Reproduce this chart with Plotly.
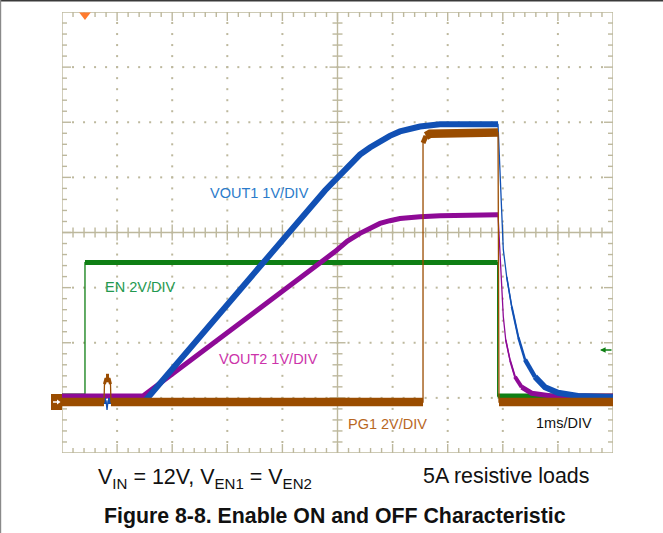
import numpy as np
import plotly.graph_objects as go

# ---------------- figure geometry ----------------
W, H = 663, 533
ML, MR, MT, MB = 62, 50, 12, 80
PW = W - ML - MR          # plot width  (px)
PH = H - MT - MB          # plot height (px)
NX, NY = 10, 8            # scope divisions
PXX = PW / NX
PXY = PH / NY

# ---------------- data (time in ms, 1 ms/DIV; voltages in V) ----------------
# EN (2 V/DIV)
en_t = [0.0, 0.417, 0.417, 7.907, 7.907, 10.0]
en_v = [0.0, 0.0, 4.84, 4.84, 0.0, 0.0]
en_trigger_level = 1.67

# VOUT1 (1 V/DIV)
vout1_t = [0.0, 0.80, 0.817, 0.835, 1.506, 4.773, 4.991, 5.200, 5.408, 5.590, 5.771,
           5.950, 6.134, 6.320, 6.497, 6.860, 7.913, 8.009, 8.071, 8.162, 8.281,
           8.403, 8.584, 8.766, 9.002, 9.365, 10.0]
vout1_v = [0.0, 0.0, -0.16, 0.0, 0.0, 3.82, 4.05, 4.28, 4.47, 4.60, 4.71,
           4.81, 4.89, 4.95, 4.98, 5.02, 5.02, 2.75, 2.25, 1.71, 1.16,
           0.75, 0.44, 0.25, 0.15, 0.09, 0.07]

# VOUT2 (1 V/DIV)
vout2_t = [0.0, 1.470, 4.955, 5.180, 5.408, 5.590, 5.771, 5.950, 6.134, 6.497,
           6.860, 7.913, 7.949, 7.980, 8.009, 8.053, 8.131, 8.221, 8.343, 8.524,
           8.887, 10.0]
vout2_v = [0.0, 0.0, 2.62, 2.81, 2.95, 3.05, 3.13, 3.18, 3.22, 3.25,
           3.27, 3.29, 2.65, 2.05, 1.44, 1.02, 0.65, 0.35, 0.16, 0.05,
           0.0, 0.0]

# PG1 (2 V/DIV)
pg1_t = [0.0, 0.762, 0.771, 0.799, 0.853, 0.880, 0.889, 6.552, 6.552, 6.606,
         6.679, 7.913, 7.931, 10.0]
pg1_v = [0.0, 0.0, 0.65, 0.87, 0.87, 0.65, 0.0, 0.0, 9.40, 9.65,
         9.73, 9.78, 0.0, 0.0]

# channel settings: (ground position in divisions, volts per division)
en_ground, en_vdiv = 1.034, 2.0
vout1_ground, vout1_vdiv = 0.943, 1.0
vout2_ground, vout2_vdiv = 1.034, 1.0
pg1_ground, pg1_vdiv = 0.925, 2.0
trigger_time = 0.417

# labels
label_vout1 = "VOUT1 1V/DIV"
label_en = "EN 2V/DIV"
label_vout2 = "VOUT2 1V/DIV"
label_pg1 = "PG1 2V/DIV"
label_time = "1ms/DIV"
cond_left = "V<sub>IN</sub> = 12V, V<sub>EN1</sub> = V<sub>EN2</sub>"
cond_right = "5A resistive loads"
title_text = "<b>Figure 8-8. Enable ON and OFF Characteristic</b>"

# ---------------- styles ----------------
GRID = "#bdb89d"
C_EN, C_EN_TXT = "#0f7f14", "#23994f"
C_V1, C_V1_TXT = "#1150b4", "#2b7bca"
C_V2, C_V2_TXT = "#8e0a96", "#cc33aa"
C_PG, C_PG_TXT = "#9a4c00", "#b8671f"
FONT = "Liberation Sans, Arial, sans-serif"

fig = go.Figure()

# ---------------- graticule ----------------
def pxx(p):
    return p / PXX

def pxy(p):
    return p / PXY

gx, gy = [], []

def seg(x0, y0, x1, y1):
    gx.extend([x0, x1, None])
    gy.extend([y0, y1, None])

seg(0, 0, NX, 0); seg(NX, 0, NX, NY); seg(NX, NY, 0, NY); seg(0, NY, 0, 0)
seg(NX / 2, 0, NX / 2, NY); seg(0, NY / 2, NX, NY / 2)
for k in range(1, NX * 5):
    x = k * 0.2
    major = (k % 5 == 0)
    L = pxy(9 if major else 5)
    seg(x, 0, x, L); seg(x, NY, x, NY - L)
    Lc = pxy(8 if major else 5)
    seg(x, NY / 2 - Lc, x, NY / 2 + Lc)
for k in range(1, NY * 5):
    y = k * 0.2
    major = (k % 5 == 0)
    L = pxx(9 if major else 5)
    seg(0, y, L, y); seg(NX, y, NX - L, y)
    Lc = pxx(8 if major else 5)
    seg(NX / 2 - Lc, y, NX / 2 + Lc, y)

fig.add_trace(go.Scatter(x=gx, y=gy, mode="lines", line=dict(color=GRID, width=1.4),
                         hoverinfo="skip", showlegend=False))

dx, dy = [], []
for xi in range(1, NX):
    if xi == NX // 2:
        continue
    for k in range(1, NY * 5):
        dx.append(xi); dy.append(k * 0.2)
for yi in range(1, NY):
    if yi == NY // 2:
        continue
    for k in range(1, NX * 5):
        dx.append(k * 0.2); dy.append(yi)
fig.add_trace(go.Scatter(x=dx, y=dy, mode="markers",
                         marker=dict(symbol="square", size=2, color=GRID, line=dict(width=0)),
                         hoverinfo="skip", showlegend=False))

# ---------------- waveforms ----------------
def add_channel(t, v, ground, vdiv, color, h):
    x = np.array(t, dtype=float)
    y = ground + np.array(v, dtype=float) / vdiv
    fig.add_trace(go.Scatter(x=x, y=y, mode="lines", line=dict(color=color, width=1.3),
                             hoverinfo="skip", showlegend=False))
    widths = []
    for i in range(len(x) - 1):
        dxp = (x[i + 1] - x[i]) * PXX
        dyp = (y[i + 1] - y[i]) * PXY
        s = abs(dyp) / dxp if dxp > 0 else 1e9
        w = min(h, max(1.2, 1.5 * h / np.sqrt(1 + s * s)))
        widths.append(round(w * 2) / 2)
    i = 0
    while i < len(widths):
        j = i
        while j + 1 < len(widths) and widths[j + 1] == widths[i]:
            j += 1
        if widths[i] > 1.3:
            fig.add_trace(go.Scatter(x=x[i:j + 2], y=y[i:j + 2], mode="lines",
                                     line=dict(color=color, width=widths[i]),
                                     hoverinfo="skip", showlegend=False))
        i = j + 1

add_channel(en_t, en_v, en_ground, en_vdiv, C_EN, 5)
add_channel(vout2_t, vout2_v, vout2_ground, vout2_vdiv, C_V2, 5)
add_channel(vout1_t, vout1_v, vout1_ground, vout1_vdiv, C_V1, 6)
add_channel(pg1_t, pg1_v, pg1_ground, pg1_vdiv, C_PG, 8.5)

# trigger position marker
fig.add_trace(go.Scatter(x=[trigger_time], y=[NY - pxy(3)], mode="markers",
                         marker=dict(symbol="triangle-down", size=10, color="#ff7a2e",
                                     line=dict(width=0)),
                         cliponaxis=False, hoverinfo="skip", showlegend=False))

# ---------------- helpers for pixel positioned decorations ----------------
def ppx(p):
    return (p - ML) / PW

def ppy(p):
    return (H - MB - p) / PH

shapes = [
    # ground marker (PG1 channel reference)
    dict(type="rect", xref="paper", yref="paper", x0=ppx(51), x1=ppx(62),
         y0=ppy(410), y1=ppy(394), fillcolor=C_PG, line=dict(width=0), layer="above"),
    dict(type="line", xref="paper", yref="paper", x0=ppx(53), x1=ppx(58),
         y0=ppy(402), y1=ppy(402), line=dict(color="white", width=1.5), layer="above"),
    dict(type="path", xref="paper", yref="paper",
         path=f"M {ppx(57)} {ppy(399.5)} L {ppx(60.5)} {ppy(402)} L {ppx(57)} {ppy(404.5)} Z",
         fillcolor="white", line=dict(width=0), layer="above"),
    # page edges
    dict(type="line", xref="paper", yref="paper", x0=ppx(0), x1=ppx(W),
         y0=ppy(0.8), y1=ppy(0.8), line=dict(color="#3a3a3a", width=1.6)),
    dict(type="line", xref="paper", yref="paper", x0=ppx(0.6), x1=ppx(0.6),
         y0=ppy(0), y1=ppy(H), line=dict(color="#8a8a8a", width=1.2)),
]

def lab(text, x_left, y_mid, color, size, anchor="left"):
    return dict(text=text, xref="paper", yref="paper", x=ppx(x_left), y=ppy(y_mid),
                xanchor=anchor, yanchor="middle", showarrow=False,
                font=dict(family=FONT, size=size, color=color))

annotations = [
    lab(label_vout1, 208, 192.5, C_V1_TXT, 14.5),
    lab(label_en, 103, 287, C_EN_TXT, 14.5),
    lab(label_vout2, 217, 358.5, C_V2_TXT, 14.5),
    lab(label_pg1, 346, 423.5, C_PG_TXT, 14.5),
    lab(label_time, 534, 422.5, "#111111", 14.5),
    lab(cond_left, 96, 478, "#111111", 21.5),
    lab(cond_right, 421, 476, "#111111", 21.4),
    lab(title_text, 334.5, 516, "#111111", 21.3, anchor="center"),
    # EN trigger level arrow
    dict(x=NX - pxx(13), y=en_ground + en_trigger_level / en_vdiv, xref="x", yref="y",
         text="", showarrow=True, ax=13, ay=0, arrowhead=2, arrowsize=0.8,
         arrowwidth=1.4, arrowcolor=C_EN),
]

fig.update_layout(
    width=W, height=H,
    margin=dict(l=ML, r=MR, t=MT, b=MB, pad=0),
    paper_bgcolor="white", plot_bgcolor="white",
    showlegend=False,
    xaxis=dict(range=[0, NX], showgrid=False, zeroline=False, showticklabels=False,
               ticks="", showline=False, fixedrange=True),
    yaxis=dict(range=[0, NY], showgrid=False, zeroline=False, showticklabels=False,
               ticks="", showline=False, fixedrange=True),
    shapes=shapes,
    annotations=annotations,
)

fig.write_html("out.html", config={"displayModeBar": False},
               post_script="document.body.style.margin='0px';")
